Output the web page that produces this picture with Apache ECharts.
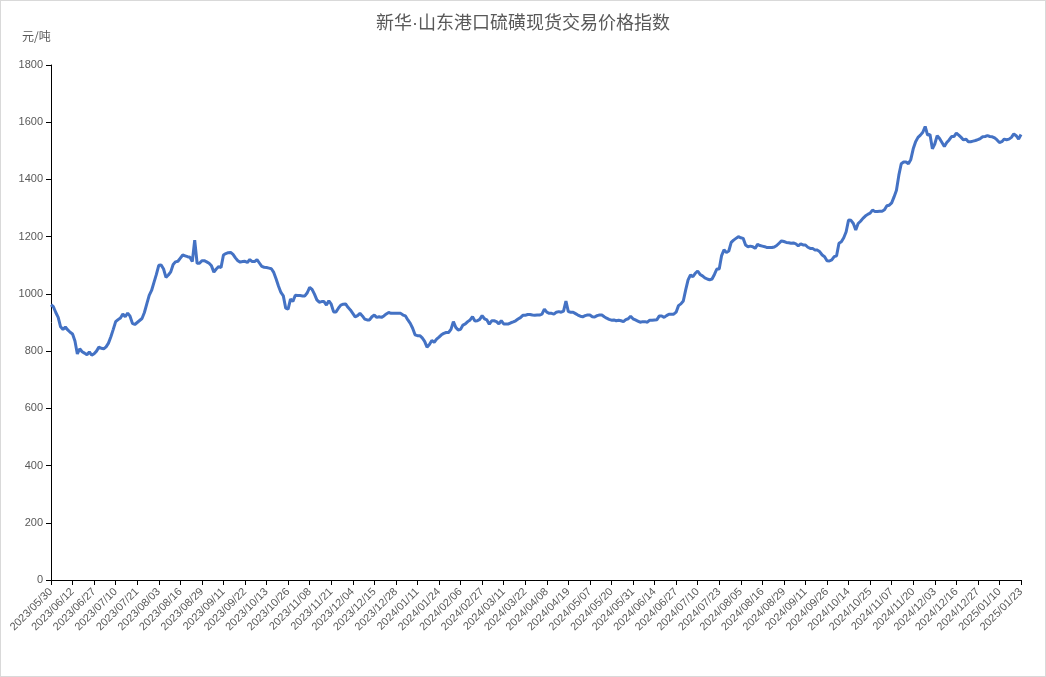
<!DOCTYPE html>
<html>
<head>
<meta charset="utf-8">
<script src="https://cdn.jsdelivr.net/npm/echarts@6/dist/echarts.min.js"></script>
<style>
html,body{margin:0;padding:0;background:#fff;}
#c{width:1046px;height:677px;box-sizing:border-box;border:1px solid #d9d9d9;}
</style>
</head>
<body>
<div id="c"></div>
<script>
// Tick labels shown on the x axis (every 9th trading day)
var tickLabels = ['2023/05/30','2023/06/12','2023/06/27','2023/07/10','2023/07/21','2023/08/03','2023/08/16','2023/08/29','2023/09/11','2023/09/22','2023/10/13','2023/10/26','2023/11/08','2023/11/21','2023/12/04','2023/12/15','2023/12/28','2024/01/11','2024/01/24','2024/02/06','2024/02/27','2024/03/11','2024/03/22','2024/04/08','2024/04/19','2024/05/07','2024/05/20','2024/05/31','2024/06/14','2024/06/27','2024/07/10','2024/07/23','2024/08/05','2024/08/16','2024/08/29','2024/09/11','2024/09/26','2024/10/14','2024/10/25','2024/11/07','2024/11/20','2024/12/03','2024/12/16','2024/12/27','2025/01/10','2025/01/23'];

// Non-trading weekdays and extra (make-up) trading days
var holidays = ['2023/06/22','2023/06/23','2023/09/29','2023/10/02','2023/10/03','2023/10/04','2023/10/05','2023/10/06','2024/01/01','2024/02/09','2024/02/12','2024/02/13','2024/02/14','2024/02/15','2024/02/16','2024/04/04','2024/04/05','2024/05/01','2024/05/02','2024/05/03','2024/06/10','2024/09/16','2024/09/17','2024/10/01','2024/10/02','2024/10/03','2024/10/04','2024/10/07','2025/01/01'];
var extraDays = ['2024/09/29','2024/10/12'];

// Index values (元/吨), one per trading day
var values = [
962,955,935,918,885,876,884,874,866,
860,835,790,808,798,793,787,797,786,
791,800,814,810,808,815,828,850,876,
903,910,916,930,920,933,922,897,893,
900,907,914,935,965,995,1012,1040,1068,
1100,1101,1087,1058,1066,1077,1103,1112,1114,
1125,1136,1133,1130,1128,1113,1188,1107,1107,
1116,1116,1112,1107,1098,1076,1087,1095,1092,
1136,1141,1144,1145,1138,1126,1116,1111,1113,
1114,1110,1120,1113,1113,1120,1108,1096,1093,
1092,1090,1088,1075,1052,1027,1005,993,950,
947,982,974,995,994,994,993,993,1004,
1023,1016,999,979,971,973,973,961,976,
964,937,937,950,961,964,965,953,944,
932,920,924,932,923,912,909,909,920,
926,918,920,918,923,930,935,932,932,
932,932,932,926,923,909,897,880,857,
854,854,846,834,814,823,837,831,842,
849,857,862,865,865,876,903,883,874,
876,891,895,903,909,920,905,906,911,
924,913,909,894,906,906,903,895,906,
895,895,895,899,902,906,912,917,925,
925,928,928,926,925,926,926,929,947,
936,932,932,929,936,938,936,940,975,
938,936,936,931,926,922,920,924,926,
926,920,919,924,926,926,920,915,911,
908,909,906,908,906,903,910,913,922,
913,909,905,901,903,903,901,908,908,
909,910,923,923,918,924,929,929,929,
936,959,965,975,1014,1049,1066,1060,1072,
1080,1068,1063,1056,1052,1049,1052,1068,1087,
1087,1134,1154,1145,1150,1180,1188,1194,1200,
1196,1194,1171,1165,1167,1165,1159,1173,1169,
1167,1165,1162,1162,1162,1164,1169,1177,1185,
1183,1180,1179,1177,1178,1175,1168,1175,1171,
1171,1163,1159,1159,1153,1153,1147,1136,1130,
1116,1115,1119,1130,1133,1177,1182,1196,1217,
1258,1257,1246,1223,1246,1254,1264,1272,1278,
1282,1293,1288,1288,1289,1289,1294,1308,1310,
1318,1339,1362,1415,1455,1461,1461,1455,1470,
1507,1532,1547,1555,1565,1585,1555,1557,1507,
1524,1553,1543,1529,1515,1529,1538,1550,1550,
1562,1555,1547,1538,1541,1532,1532,1534,1536,
1539,1543,1549,1550,1553,1550,1549,1545,1538,
1529,1532,1541,1539,1541,1547,1559,1553,1541,
1557
];

// Build trading-day category list
function pad(n){return n<10?'0'+n:''+n;}
var categories = [];
var d = new Date(2023, 4, 30);
while (categories.length < values.length) {
  var s = d.getFullYear() + '/' + pad(d.getMonth()+1) + '/' + pad(d.getDate());
  var wd = d.getDay();
  if ((wd !== 0 && wd !== 6 && holidays.indexOf(s) < 0) || extraDays.indexOf(s) >= 0) categories.push(s);
  d.setDate(d.getDate()+1);
}
for (var k = 0; k < tickLabels.length; k++) { if (k*9 < categories.length) categories[k*9] = tickLabels[k]; }

var chart = echarts.init(document.getElementById('c'));
var txt = '#595959';
chart.setOption({
  animation: false,
  title: {
    text: '新华·山东港口硫磺现货交易价格指数',
    left: 'center', top: 9,
    textStyle: {fontSize: 18, fontWeight: 'normal', color: txt, fontFamily: 'Liberation Sans, Noto Sans CJK SC'}
  },
  graphic: [{
    type: 'text', left: 21, top: 29,
    style: {text: '元/吨', fontSize: 12, fill: txt, fontFamily: 'Noto Sans CJK SC'}
  }],
  grid: {left: 50, right: 24, top: 64, bottom: 96, containLabel: false},
  xAxis: {
    type: 'category', data: categories, boundaryGap: false,
    axisLine: {lineStyle: {color: '#000', width: 1}},
    axisTick: {interval: 8, length: 5, lineStyle: {color: '#000'}},
    axisLabel: {interval: 8, rotate: 45, fontSize: 11, color: txt, margin: 10, fontFamily: 'Liberation Sans'},
    splitLine: {show: false}
  },
  yAxis: {
    type: 'value', min: 0, max: 1800, interval: 200,
    axisLine: {show: true, lineStyle: {color: '#000', width: 1}},
    axisTick: {show: true, length: 5, lineStyle: {color: '#000'}},
    axisLabel: {fontSize: 11, color: txt, margin: 8, fontFamily: 'Liberation Sans',
      formatter: function (v) { return String(v); }},
    splitLine: {show: false}
  },
  series: [{
    type: 'line', data: values, showSymbol: false, symbol: 'none',
    lineStyle: {color: '#4472C4', width: 3},
    itemStyle: {color: '#4472C4'}
  }]
});
</script>
</body>
</html>
